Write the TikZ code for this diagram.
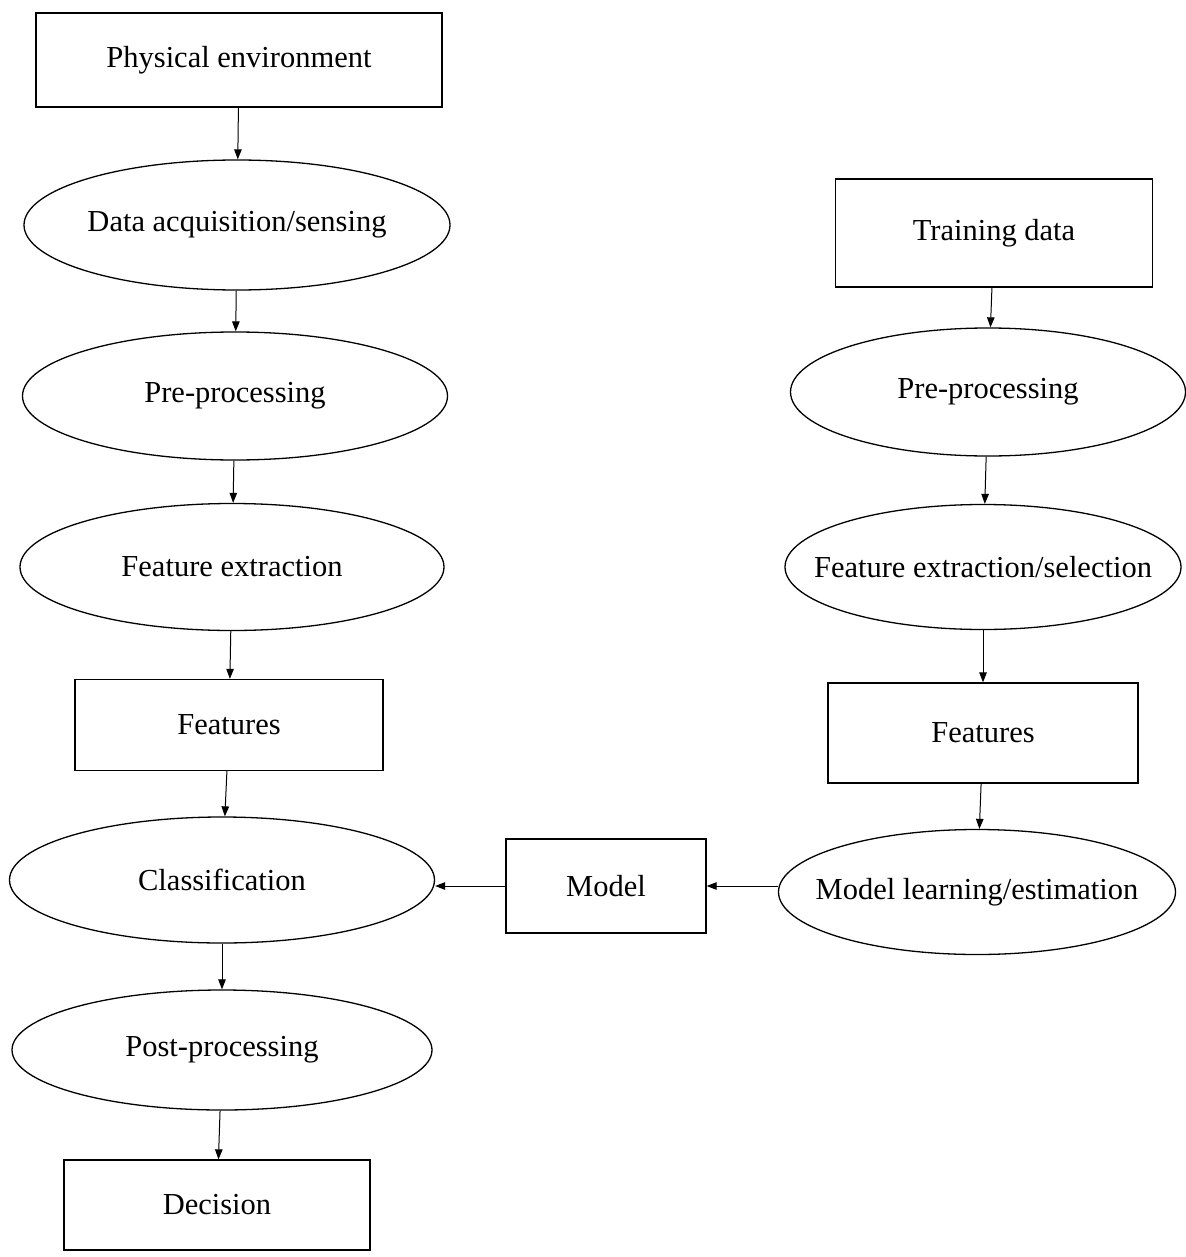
\documentclass[tikz,border=0pt]{standalone}
\usepackage{fontspec}
\setmainfont{Liberation Serif}
\usetikzlibrary{shapes.geometric,arrows.meta}
% centred label of zero width, so the frame size comes from the style alone
\newcommand{\lbl}[1]{\makebox[0pt][c]{#1}}
\begin{document}
\begin{tikzpicture}[x=1pt,y=-1pt,
  every node/.style={font=\fontsize{30.5}{36}\selectfont, inner sep=0pt},
  boxnode/.style={draw, rectangle, line width=1.3pt},
  ovalnode/.style={draw, ellipse, line width=1.3pt},
  flow/.style={line width=1pt, -{Triangle[length=10pt,width=7.5pt]}}]
\useasboundingbox (0,0) rectangle (1185,1257);
\fill[white] (0,0) rectangle (1185,1257);

% operational chain (left column)
\node[boxnode, minimum width=406pt, minimum height=94pt] (phys) at (239,60) {\lbl{Physical environment}};
\node[ovalnode, minimum width=426pt, minimum height=130pt] (acq) at (237,225) {\lbl{Data acquisition/sensing}};
\node[ovalnode, minimum width=425pt, minimum height=128pt] (prel) at (235,396) {\lbl{Pre-processing}};
\node[ovalnode, minimum width=424pt, minimum height=127pt] (fextl) at (232,567) {\lbl{Feature extraction}};
\node[boxnode, minimum width=308pt, minimum height=91pt] (featl) at (229,725) {\lbl{Features}};
\node[ovalnode, minimum width=425pt, minimum height=126pt] (cls) at (222,880) {\lbl{Classification}};
\node[ovalnode, minimum width=420pt, minimum height=120pt] (post) at (222,1050) {\lbl{Post-processing}};
\node[boxnode, minimum width=306pt, minimum height=90pt] (dec) at (217,1205) {\lbl{Decision}};

% training chain (right column)
\node[boxnode, minimum width=317pt, minimum height=108pt] (train) at (994,233) {\lbl{Training data}};
\node[ovalnode, minimum width=395pt, minimum height=128pt] (prer) at (988,392) {\lbl{Pre-processing}};
\node[ovalnode, minimum width=396pt, minimum height=125pt] (fextr) at (983,567) {\lbl{Feature extraction/selection}};
\node[boxnode, minimum width=310pt, minimum height=100pt] (featr) at (983,733) {\lbl{Features}};
\node[ovalnode, minimum width=397pt, minimum height=125pt] (learn) at (977,892) {\lbl{Model learning/estimation}};

% model in the middle
\node[boxnode, minimum width=200pt, minimum height=94pt] (model) at (606,886) {\lbl{Model}};

% connectors
\draw[flow] (phys) -- (acq);
\draw[flow] (acq) -- (prel);
\draw[flow] (prel) -- (fextl);
\draw[flow] (fextl) -- (featl);
\draw[flow] (featl) -- (cls);
\draw[flow] (cls) -- (post);
\draw[flow] (post) -- (dec);

\draw[flow] (train) -- (prer);
\draw[flow] (prer) -- (fextr);
\draw[flow] (fextr) -- (featr);
\draw[flow] (featr) -- (learn);

\draw[flow] (learn.west |- model.east) -- (model.east);
\draw[flow] (model.west) -- (cls.east |- model.west);
\end{tikzpicture}
\end{document}
